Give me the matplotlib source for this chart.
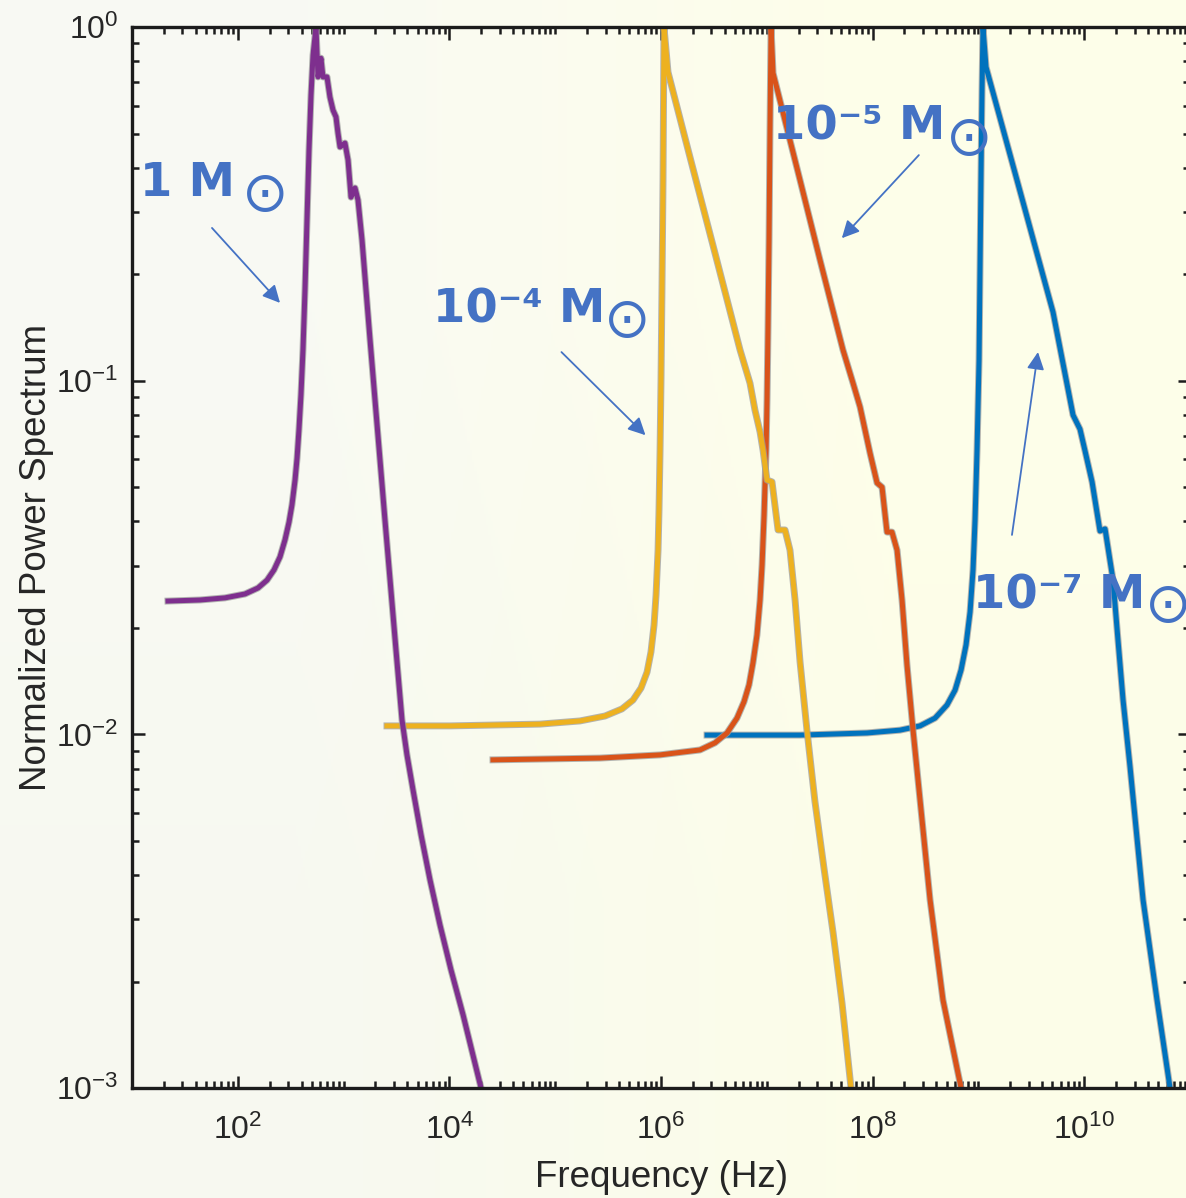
import numpy as np
import matplotlib
matplotlib.use("Agg")
import matplotlib.pyplot as plt
import matplotlib.patheffects as pe
from matplotlib.ticker import FixedLocator, LogLocator, NullFormatter, LogFormatterSciNotation

plt.rcParams['font.family'] = ['Liberation Sans', 'DejaVu Sans']
plt.rcParams['mathtext.fontset'] = 'custom'
plt.rcParams['mathtext.rm'] = 'Liberation Sans'
plt.rcParams['mathtext.it'] = 'Liberation Sans:italic'
plt.rcParams['mathtext.bf'] = 'Liberation Sans:bold'

# curves, in log10 units (frequency in Hz, normalized power)
purple_logf = [1.340, 1.643, 1.879, 2.068, 2.191, 2.276, 2.342, 2.399, 2.446, 2.484, 2.512,
               2.541, 2.560, 2.578, 2.597, 2.616, 2.635, 2.654, 2.673, 2.692, 2.711, 2.739,
               2.758, 2.786, 2.805, 2.843, 2.871, 2.900, 2.928, 2.947, 2.966, 3.013, 3.042,
               3.070, 3.108, 3.136, 3.174, 3.212, 3.250, 3.297, 3.344, 3.391, 3.439, 3.495,
               3.552, 3.599, 3.656, 3.732, 3.817, 3.911, 4.015, 4.129, 4.299]
purple_logp = [-1.623, -1.620, -1.614, -1.603, -1.586, -1.564, -1.535, -1.498, -1.450, -1.400,
               -1.351, -1.281, -1.219, -1.139, -1.040, -0.913, -0.744, -0.546, -0.348, -0.192,
               -0.079, 0.0, -0.141, -0.088, -0.141, -0.141, -0.198, -0.235, -0.254, -0.300,
               -0.339, -0.328, -0.376, -0.481, -0.455, -0.489, -0.602, -0.744, -0.885, -1.055,
               -1.224, -1.394, -1.563, -1.761, -1.959, -2.058, -2.157, -2.284, -2.412, -2.539,
               -2.666, -2.793, -3.0]

yellow_logf = [3.410, 4.006, 4.856, 5.234, 5.471, 5.631, 5.735, 5.811, 5.868, 5.905, 5.934,
               5.953, 5.972, 5.981, 5.991, 6.000, 6.009, 6.019, 6.028, 6.066, 6.274, 6.510,
               6.747, 6.841, 6.888, 6.936, 6.964, 7.002, 7.049, 7.106, 7.172, 7.219, 7.267,
               7.314, 7.380, 7.455, 7.541, 7.626, 7.711, 7.796]
yellow_logp = [-1.976, -1.976, -1.971, -1.962, -1.948, -1.928, -1.903, -1.869, -1.824, -1.767,
               -1.691, -1.606, -1.479, -1.366, -1.196, -0.998, -0.744, -0.433, 0.0, -0.127,
               -0.368, -0.639, -0.913, -1.007, -1.083, -1.145, -1.196, -1.281, -1.286, -1.422,
               -1.422, -1.479, -1.620, -1.795, -1.990, -2.190, -2.380, -2.560, -2.760, -3.0]

orange_logf = [4.412, 5.423, 5.991, 6.369, 6.510, 6.624, 6.718, 6.784, 6.832, 6.869, 6.907,
               6.936, 6.955, 6.974, 6.993, 7.002, 7.011, 7.021, 7.030, 7.040, 7.059, 7.314,
               7.503, 7.720, 7.815, 7.881, 7.928, 7.975, 8.042, 8.089, 8.136, 8.183, 8.231,
               8.278, 8.325, 8.382, 8.448, 8.543, 8.665, 8.836]
orange_logp = [-2.072, -2.067, -2.058, -2.044, -2.024, -1.996, -1.954, -1.908, -1.860, -1.798,
               -1.719, -1.620, -1.521, -1.380, -1.196, -1.055, -0.857, -0.602, -0.291, 0.0,
               -0.130, -0.433, -0.659, -0.913, -1.007, -1.074, -1.139, -1.204, -1.289, -1.301,
               -1.428, -1.428, -1.479, -1.620, -1.804, -1.988, -2.185, -2.468, -2.751, -3.0]

blue_logf = [6.435, 7.314, 7.947, 8.259, 8.448, 8.590, 8.703, 8.779, 8.836, 8.883, 8.921,
             8.949, 8.968, 8.987, 9.006, 9.015, 9.025, 9.034, 9.043, 9.072, 9.393, 9.705,
             9.837, 9.894, 9.960, 10.008, 10.074, 10.149, 10.197, 10.272, 10.319, 10.367,
             10.433, 10.556, 10.688, 10.811]
blue_logp = [-2.002, -2.002, -1.996, -1.988, -1.976, -1.954, -1.917, -1.875, -1.818, -1.747,
             -1.654, -1.535, -1.394, -1.196, -0.941, -0.687, -0.404, -0.178, 0.0, -0.113,
             -0.464, -0.806, -1.009, -1.097, -1.137, -1.199, -1.286, -1.425, -1.419, -1.563,
             -1.733, -1.903, -2.092, -2.468, -2.751, -3.0]

x_ticks = [1e2, 1e4, 1e6, 1e8, 1e10]
y_ticks = [1e-3, 1e-2, 1e-1, 1e0]

# annotation labels: text, text anchor, sun symbol anchor, arrow tail, arrow head (log10 units)
labels = ['1 M', '10⁻⁴ M', '10⁻⁵ M', '10⁻⁷ M']
label_pos = [(1.080, -0.478), (3.845, -0.834), (7.060, -0.319), (8.950, -1.643)]
sun_pos = [(2.257, -0.478), (5.683, -0.834), (8.909, -0.319), (10.790, -1.640)]
arrow_tail = [(1.756, -0.568), (5.059, -0.919), (8.437, -0.362), (9.317, -1.436)]
arrow_head = [(2.399, -0.780), (5.853, -1.154), (7.709, -0.597), (9.563, -0.919)]

fig = plt.figure(figsize=(11.86, 11.98), dpi=100)

# soft cream background gradient
bg = fig.add_axes([0, 0, 1, 1], zorder=-10)
grad = np.array([[[0.976, 0.980, 0.955], [0.996, 0.998, 0.915]],
                 [[0.970, 0.976, 0.945], [0.990, 0.994, 0.912]]])
bg.imshow(grad, interpolation='bilinear', aspect='auto', extent=[0, 1, 0, 1])
bg.axis('off')

ax = fig.add_axes([0.1113, 0.0918, 0.8921, 0.8856])
ax.set_facecolor('none')

halo = [pe.Stroke(linewidth=5.0, foreground='#9c9c9c', alpha=0.75), pe.Normal()]
series = [(blue_logf, blue_logp, '#0072BD'),
          (orange_logf, orange_logp, '#D95319'),
          (yellow_logf, yellow_logp, '#EDB120'),
          (purple_logf, purple_logp, '#7E2F8E')]
for lf, lp, c in series:
    ax.plot(10 ** np.array(lf), 10 ** np.array(lp), color=c, lw=3.6,
            solid_joinstyle='round', path_effects=halo)

ax.set_xscale('log')
ax.set_yscale('log')
ax.set_xlim(1e1, 1e11)
ax.set_ylim(1e-3, 1)

ax.xaxis.set_major_locator(FixedLocator(x_ticks))
ax.xaxis.set_major_formatter(LogFormatterSciNotation())
ax.xaxis.set_minor_locator(LogLocator(base=10, subs=np.arange(1, 10), numticks=100))
ax.xaxis.set_minor_formatter(NullFormatter())
ax.yaxis.set_major_locator(FixedLocator(y_ticks))
ax.yaxis.set_major_formatter(LogFormatterSciNotation())
ax.yaxis.set_minor_locator(LogLocator(base=10, subs=np.arange(2, 10), numticks=100))
ax.yaxis.set_minor_formatter(NullFormatter())

for s in ax.spines.values():
    s.set_linewidth(2.4)
    s.set_color('#1c1c1c')
ax.tick_params(which='both', direction='in', top=True, right=True,
               color='#1c1c1c', width=1.8, labelsize=23, labelcolor='#262626')
ax.tick_params(which='major', length=9)
ax.tick_params(which='minor', length=5)
ax.tick_params(axis='x', pad=19)
ax.tick_params(axis='y', pad=10)

ax.set_xlabel('Frequency (Hz)', fontsize=26.5, color='#262626')
ax.set_ylabel('Normalized Power Spectrum', fontsize=26.5, color='#262626')
ax.xaxis.set_label_coords(0.5, -0.068)
ax.yaxis.set_label_coords(-0.074, 0.5)

blue_txt = '#4472C4'
for txt, p, sp, t, h in zip(labels, label_pos, sun_pos, arrow_tail, arrow_head):
    ax.text(10 ** p[0], 10 ** p[1], txt, family='DejaVu Sans', weight='bold',
            fontsize=33.5, color=blue_txt, ha='left', va='baseline')
    ax.text(10 ** sp[0], 10 ** sp[1], '⊙', family='DejaVu Sans', fontsize=40,
            color=blue_txt, ha='center', va='center', clip_on=False)
    ax.annotate('', xy=(10 ** h[0], 10 ** h[1]), xytext=(10 ** t[0], 10 ** t[1]),
                arrowprops=dict(arrowstyle='-|>', color=blue_txt, lw=1.3,
                                mutation_scale=26, shrinkA=0, shrinkB=0))

fig.savefig('out.png', dpi=100)
